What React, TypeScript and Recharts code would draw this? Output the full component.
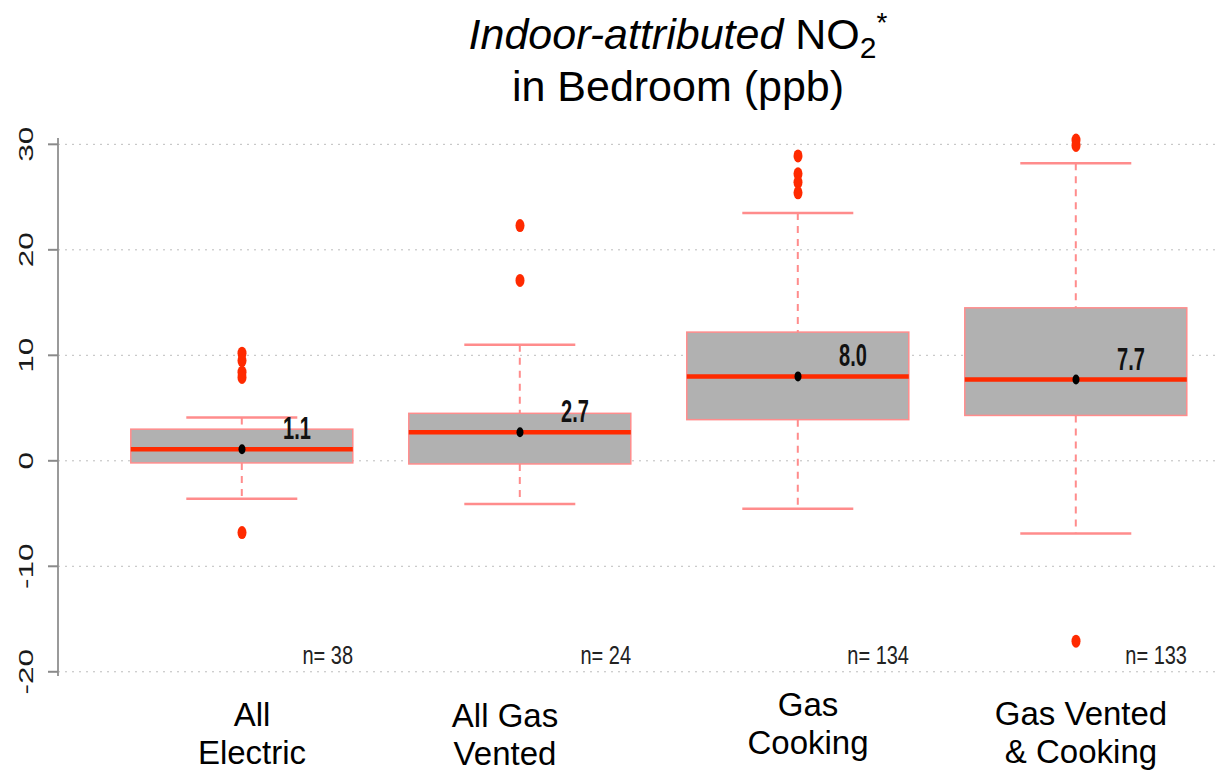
import React from "react";
import { ComposedChart, Bar, Scatter, XAxis, YAxis, CartesianGrid } from "recharts";

// categories and box statistics (ppb)
const categories = ["All Electric", "All Gas Vented", "Gas Cooking", "Gas Vented & Cooking"];
const labelLines = [["All", "Electric"], ["All Gas", "Vented"], ["Gas", "Cooking"], ["Gas Vented", "& Cooking"]];
const whiskerLow = [-3.6, -4.1, -4.55, -6.9];
const q1 = [-0.2, -0.3, 3.9, 4.3];
const medians = [1.1, 2.7, 8.0, 7.7];
const q3 = [3.0, 4.5, 12.2, 14.5];
const whiskerHigh = [4.1, 11.0, 23.5, 28.2];
const counts = [38, 24, 134, 133];
const outliers = [
    [10.2, 9.5, 8.4, 7.9, -6.8],
    [22.3, 17.1],
    [28.9, 27.2, 26.4, 25.4],
    [30.4, 29.9, -17.1],
];
const yTicks = [-20, -10, 0, 10, 20, 30];

// layout bits (not data)
const N_LABEL_Y = -18.4;
const tickShift = [[10, 0], [-15, 1], [10, -10], [5, -1]];

const boxData = categories.map((name, i) => ({
    name,
    range: [whiskerLow[i], whiskerHigh[i]],
    lo: whiskerLow[i],
    q1: q1[i],
    med: medians[i],
    q3: q3[i],
    hi: whiskerHigh[i],
}));
const outlierData = categories.flatMap((name, i) => outliers[i].map((value) => ({ name, value })));
const meanData = categories.map((name, i) => ({ name, value: medians[i], label: medians[i].toFixed(1) }));
const countData = categories.map((name, i) => ({ name, value: N_LABEL_Y, n: counts[i] }));

const RED = "#ff2a00";
const PALE = "#ff8c8c";
const SANS = "'Liberation Sans', Arial, sans-serif";

const BoxShape = (props: any) => {
    const { x, y, width, height, payload } = props;
    const top = Math.min(y, y + height);
    const h = Math.abs(height);
    const py = (v: number) => top + ((payload.hi - v) / (payload.hi - payload.lo)) * h;
    const cx = x + width / 2;
    const cap = width / 4;
    return (
        <g>
            <line x1={cx} x2={cx} y1={py(payload.hi)} y2={py(payload.q3)} stroke={PALE} strokeWidth={2} strokeDasharray="7 6" />
            <line x1={cx} x2={cx} y1={py(payload.q1)} y2={py(payload.lo)} stroke={PALE} strokeWidth={2} strokeDasharray="7 6" />
            <line x1={cx - cap} x2={cx + cap} y1={py(payload.hi)} y2={py(payload.hi)} stroke={PALE} strokeWidth={2.5} />
            <line x1={cx - cap} x2={cx + cap} y1={py(payload.lo)} y2={py(payload.lo)} stroke={PALE} strokeWidth={2.5} />
            <rect x={x} y={py(payload.q3)} width={width} height={py(payload.q1) - py(payload.q3)} fill="#b1b1b1" stroke={PALE} strokeWidth={1.5} />
            <line x1={x} x2={x + width} y1={py(payload.med)} y2={py(payload.med)} stroke={RED} strokeWidth={4.5} />
        </g>
    );
};

const OutlierDot = (props: any) => <ellipse cx={props.cx} cy={props.cy} rx={4.5} ry={6.5} fill={RED} />;

const MeanDot = (props: any) => (
    <g>
        <ellipse cx={props.cx} cy={props.cy} rx={3.5} ry={5} fill="#000" />
        <text
            transform={`translate(${props.cx + 55}, ${props.cy - 10}) scale(0.8, 1.25)`}
            textAnchor="middle"
            fontFamily={SANS}
            fontWeight="bold"
            fontSize={25}
            fill="#111"
        >
            {props.payload.label}
        </text>
    </g>
);

const CountLabel = (props: any) => (
    <text
        transform={`translate(${props.cx + 111}, ${props.cy + 9}) scale(0.8, 1.05)`}
        textAnchor="end"
        fontFamily={SANS}
        fontSize={25}
        fill="#222"
    >
        {`n= ${props.payload.n}`}
    </text>
);

const YTick = (props: any) => (
    <text
        transform={`translate(${props.x - 13}, ${props.y}) rotate(-90) scale(1.5, 1)`}
        textAnchor="middle"
        fontFamily={SANS}
        fontSize={21}
        fill="#1a1a1a"
    >
        {props.payload.value}
    </text>
);

const XTick = (props: any) => {
    const i = categories.indexOf(props.payload.value);
    const lines = labelLines[i] || [props.payload.value];
    const [dx, dy] = tickShift[i] || [0, 0];
    return (
        <text x={props.x + dx} y={props.y + 42 + dy} textAnchor="middle" fontFamily={SANS} fontSize={33} fill="#000">
            {lines.map((t, k) => (
                <tspan key={k} x={props.x + dx} dy={k === 0 ? 0 : 38}>
                    {t}
                </tspan>
            ))}
        </text>
    );
};

export default function App() {
    return (
        <div style={{ position: "absolute", left: 0, top: 0, width: 1215, height: 773, background: "#fff" }}>
            <div
                style={{
                    position: "absolute",
                    left: 141,
                    top: 11,
                    width: 1074,
                    textAlign: "center",
                    fontFamily: SANS,
                    fontSize: 43,
                    lineHeight: "47px",
                    color: "#000",
                }}
            >
                <div>
                    <i>Indoor-attributed</i> NO
                    <span style={{ fontSize: 30, position: "relative", top: 9 }}>2</span>
                    <span style={{ fontSize: 28, position: "relative", top: -17 }}>*</span>
                </div>
                <div>in Bedroom (ppb)</div>
            </div>
            <ComposedChart
                width={1215}
                height={773}
                data={boxData}
                margin={{ top: 138, right: 0, bottom: 0, left: 0 }}
                barCategoryGap="10%"
            >
                <CartesianGrid vertical={false} stroke="#bdbdbd" strokeDasharray="2 5" horizontalValues={yTicks} />
                <XAxis
                    dataKey="name"
                    type="category"
                    allowDuplicatedCategory={false}
                    axisLine={false}
                    tickLine={false}
                    height={97}
                    padding={{ left: 45, right: 0 }}
                    tick={<XTick />}
                    interval={0}
                />
                <YAxis
                    type="number"
                    domain={[-20.4, 30.6]}
                    ticks={yTicks}
                    width={58}
                    tickSize={10}
                    axisLine={{ stroke: "#9a9a9a", strokeWidth: 2 }}
                    tickLine={{ stroke: "#8a8a8a", strokeWidth: 2 }}
                    tick={<YTick />}
                />
                <Bar dataKey="range" shape={<BoxShape />} isAnimationActive={false} />
                <Scatter data={outlierData} dataKey="value" shape={<OutlierDot />} isAnimationActive={false} />
                <Scatter data={meanData} dataKey="value" shape={<MeanDot />} isAnimationActive={false} />
                <Scatter data={countData} dataKey="value" shape={<CountLabel />} isAnimationActive={false} />
            </ComposedChart>
        </div>
    );
}
